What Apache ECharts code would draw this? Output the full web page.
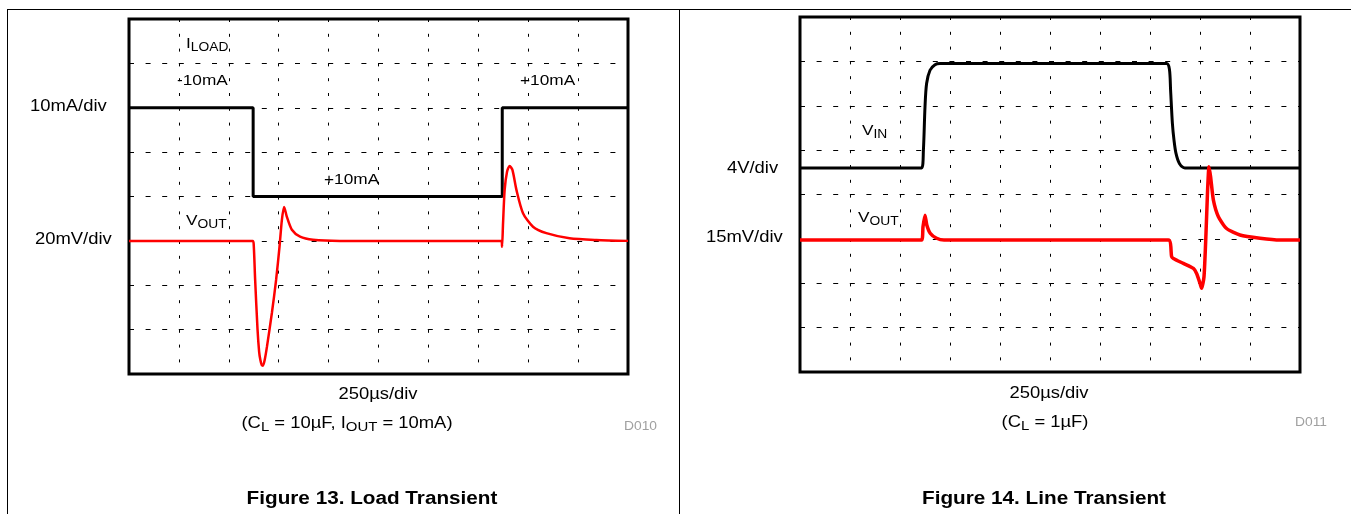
<!DOCTYPE html>
<html>
<head>
<meta charset="utf-8">
<script src="https://cdn.jsdelivr.net/npm/echarts@6/dist/echarts.min.js"></script>
<style>
  html, body { margin: 0; padding: 0; background: #fff; }
  #chart { width: 1351px; height: 514px; }
</style>
</head>
<body>
<div id="chart"></div>
<script>
// Time base shared by both scope captures: 10 divisions of 250 µs
const timeTicksUs = [0, 250, 500, 750, 1000, 1250, 1500, 1750, 2000, 2250, 2500];

// Figure 13 – load transient. Load current step (mA) and output deviation (mV) vs time (µs)
const loadCurrent = [
  [0, -10], [622, -10], [622, 10], [1870, 10], [1870, -10], [2500, -10]
];
const loadVout = [
  [0, 0], [620, 0], [625, -2], [632, -17.6], [644, -40], [652, -50], [658, -53.6],
  [665, -56], [671, -56.3], [680, -53.6], [691, -47.8], [716, -32.4], [737, -17.6], [754, -2.7],
  [766, 9.5], [777, 15.3], [791, 10.8], [816, 5], [857, 1.9], [922, 0.5], [1057, 0],
  [1866, 0], [1869, -2.7], [1874, 8], [1882, 23], [1894, 31.2], [1907, 33.8],
  [1921, 32], [1941, 23], [1974, 12.5], [2024, 6.4], [2091, 3.5], [2207, 1.2],
  [2341, 0.4], [2500, 0]
];

// Figure 14 – line transient. Input voltage (V) and output deviation (mV) vs time (µs)
const lineVin = [
  [0, 4.4], [608, 4.4], [617, 6.0], [625, 9.9], [633, 12.0], [650, 13.2], [675, 13.7],
  [700, 13.8], [1833, 13.8], [1847, 13.3], [1853, 11.4], [1862, 8.4], [1870, 6.9],
  [1880, 5.7], [1897, 4.8], [1925, 4.4], [2500, 4.4]
];
const lineVout = [
  [0, -0.4], [608, -0.4], [615, 4.1], [625, 8.0], [634, 4.7], [651, 1.9], [683, 0.2],
  [720, -0.4], [1842, -0.4], [1858, -6.0], [1867, -6.6], [1917, -8.3], [1967, -10.0],
  [1983, -11.7], [2000, -15], [2008, -16.7], [2020, -12.8], [2030, 1.9], [2038, 16.5],
  [2045, 24.4], [2053, 21], [2067, 13.1], [2092, 7.5], [2133, 3.5], [2200, 1.3],
  [2300, 0.2], [2400, -0.4], [2500, -0.4]
];

const FONT = 'Liberation Sans, Arial, sans-serif';
const SX = 1.15;   // captions are set slightly wide

const hDash = { color: '#000', width: 1, type: [5, 11.6] };
const vDash = { color: '#000', width: 1, type: [3, 11.8] };

function timeAxis(gridIndex) {
  return {
    gridIndex, type: 'value',
    min: timeTicksUs[0], max: timeTicksUs[timeTicksUs.length - 1],
    interval: timeTicksUs[1] - timeTicksUs[0],
    axisLine: { show: false }, axisTick: { show: false }, axisLabel: { show: false },
    splitLine: { show: true, lineStyle: vDash }
  };
}
function levelAxis(gridIndex, min, max, interval, opts) {
  return Object.assign({
    gridIndex, type: 'value', min, max, interval,
    axisLine: { show: false }, axisTick: { show: false }, axisLabel: { show: false },
    splitLine: { show: false }
  }, opts || {});
}

function txt(text, x, y, o) {
  o = o || {};
  const size = o.size || 15;
  return {
    type: 'text', x, y, scaleX: SX, z: 100,
    style: {
      text,
      fontFamily: FONT, fontSize: size, fontWeight: o.bold ? 'bold' : 'normal',
      fill: o.color || '#000',
      align: o.align || 'left', verticalAlign: 'middle',
      rich: {
        m: { fontFamily: FONT, fontSize: size, fill: o.color || '#000' },
        s: { fontFamily: FONT, fontSize: o.sub || 12, fill: o.color || '#000', padding: [7, 0, 0, 0] }
      }
    }
  };
}

function frameLine(x1, y1, x2, y2) {
  return { type: 'line', z: 100, shape: { x1, y1, x2, y2 }, style: { stroke: '#000', lineWidth: 1 } };
}

const chart = echarts.init(document.getElementById('chart'), null, { renderer: 'canvas' });

chart.setOption({
  animation: false,
  backgroundColor: '#fff',
  grid: [
    { left: 129, top: 19, width: 499, height: 355, show: true, borderColor: '#000', borderWidth: 3 },
    { left: 800, top: 17, width: 500, height: 355, show: true, borderColor: '#000', borderWidth: 3 }
  ],
  xAxis: [timeAxis(0), timeAxis(1)],
  yAxis: [
    // load current, 10 mA/div, drawn with the more negative value upward
    levelAxis(0, -30, 50, 10, { inverse: true, splitLine: { show: true, lineStyle: hDash } }),
    // output deviation, 20 mV/div
    levelAxis(0, -60, 100, 20),
    // input voltage, 4 V/div
    levelAxis(1, -14, 18, 4, { position: 'left' }),
    // output deviation, 15 mV/div
    levelAxis(1, -45, 75, 15, { position: 'right', splitLine: { show: true, lineStyle: hDash } })
  ],
  series: [
    { name: 'ILOAD', type: 'line', xAxisIndex: 0, yAxisIndex: 0, data: loadCurrent,
      symbol: 'none', lineStyle: { color: '#000', width: 3 }, z: 3 },
    { name: 'VOUT', type: 'line', xAxisIndex: 0, yAxisIndex: 1, data: loadVout,
      symbol: 'none', smooth: 0.25, lineStyle: { color: '#ff0000', width: 2.5 }, z: 4 },
    { name: 'VIN', type: 'line', xAxisIndex: 1, yAxisIndex: 2, data: lineVin,
      symbol: 'none', smooth: 0.3, lineStyle: { color: '#000', width: 3 }, z: 3 },
    { name: 'VOUT', type: 'line', xAxisIndex: 1, yAxisIndex: 3, data: lineVout,
      symbol: 'none', smooth: 0.2, lineStyle: { color: '#ff0000', width: 3.5 }, z: 4 }
  ],
  graphic: [
    frameLine(7, 9.5, 1351, 9.5),
    frameLine(7.5, 9, 7.5, 514),
    frameLine(679.5, 9, 679.5, 514),

    // Figure 13 annotations
    txt('10mA/div', 30, 107, { size: 16 }),
    txt('20mV/div', 35, 240, { size: 16 }),
    txt('I{s|LOAD}', 186, 44),
    txt('-10mA', 177, 81),
    txt('+10mA', 520, 81),
    txt('+10mA', 324, 180),
    txt('V{s|OUT}', 186, 221),
    txt('250µs/div', 378, 395, { size: 16, align: 'center' }),
    txt('(C{s|L} = 10µF, I{s|OUT} = 10mA)', 347, 424, { size: 16, align: 'center', sub: 13 }),
    txt('D010', 624, 427, { size: 12, color: '#a0a0a0' }),
    txt('Figure 13. Load Transient', 372, 499, { size: 18, bold: true, align: 'center' }),

    // Figure 14 annotations
    txt('4V/div', 727, 169, { size: 16 }),
    txt('15mV/div', 706, 238, { size: 16 }),
    txt('V{s|IN}', 862, 131),
    txt('V{s|OUT}', 858, 218),
    txt('250µs/div', 1049, 394, { size: 16, align: 'center' }),
    txt('(C{s|L} = 1µF)', 1045, 423, { size: 16, align: 'center', sub: 13 }),
    txt('D011', 1295, 423, { size: 12, color: '#a0a0a0' }),
    txt('Figure 14. Line Transient', 1044, 499, { size: 18, bold: true, align: 'center' })
  ]
});
</script>
</body>
</html>
